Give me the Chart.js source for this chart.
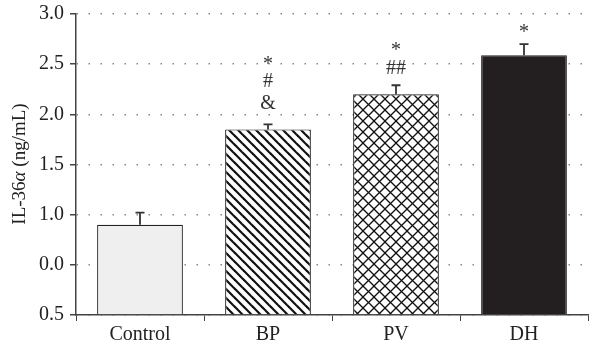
<!DOCTYPE html>
<html>
<head>
<meta charset="utf-8">
<script src="https://cdn.jsdelivr.net/npm/chart.js@4.4.1/dist/chart.umd.min.js"></script>
<style>
  html, body { margin: 0; padding: 0; background: #fff; }
  #wrap { width: 596px; height: 351px; }
</style>
</head>
<body>
<div id="wrap"><canvas id="il36chart" width="596" height="351"></canvas></div>
<script>
// values (axis positions, not the printed labels)
var groups = ['Control', 'BP', 'PV', 'DH'];
var means = [0.9, 1.85, 2.2, 2.59];
var errUp = [0.12, 0.05, 0.09, 0.11];
var marks = [[], ['*', '#', '&'], ['*', '##'], ['*']];
// the printed y labels, bottom to top (as they appear in the figure)
var yLabels = ['0.5', '0.0', '1.0', '1.5', '2.0', '2.5', '3.0'];

var canvas = document.getElementById('il36chart');
var ctx = canvas.getContext('2d');
var serif = '"Liberation Serif", serif';

function makeStripes() {
    var c = document.createElement('canvas');
    c.width = 9; c.height = 9;
    var g = c.getContext('2d');
    g.fillStyle = '#fff';
    g.fillRect(0, 0, 9, 9);
    g.strokeStyle = '#111';
    g.lineWidth = 2.2;
    for (var k = -1; k <= 1; k++) {
        g.beginPath();
        g.moveTo(k * 9 - 1, -1);
        g.lineTo(k * 9 + 10, 10);
        g.stroke();
    }
    return ctx.createPattern(c, 'repeat');
}

function makeCross() {
    var c = document.createElement('canvas');
    c.width = 11; c.height = 11;
    var g = c.getContext('2d');
    g.fillStyle = '#fff';
    g.fillRect(0, 0, 11, 11);
    g.strokeStyle = '#111';
    g.lineWidth = 1.3;
    for (var k = -1; k <= 1; k++) {
        g.beginPath();
        g.moveTo(k * 11 - 1, -1);
        g.lineTo(k * 11 + 12, 12);
        g.stroke();
        g.beginPath();
        g.moveTo(k * 11 - 1, 12);
        g.lineTo(k * 11 + 12, -1);
        g.stroke();
    }
    return ctx.createPattern(c, 'repeat');
}

var fills = ['#efefef', makeStripes(), makeCross(), '#231f20'];

var extras = {
    id: 'extras',
    afterDatasetsDraw: function(chart) {
        var c = chart.ctx;
        var meta = chart.getDatasetMeta(0);
        var ys = chart.scales.y;
        c.save();
        // error bars, upper side only
        c.strokeStyle = '#333';
        c.lineWidth = 1.8;
        for (var i = 0; i < means.length; i++) {
            var bar = meta.data[i];
            var top = ys.getPixelForValue(means[i] + errUp[i]);
            c.beginPath();
            c.moveTo(bar.x, bar.y);
            c.lineTo(bar.x, top);
            c.moveTo(bar.x - 4.5, top);
            c.lineTo(bar.x + 4.5, top);
            c.stroke();
        }
        // significance marks, stacked upward from the bar top
        c.fillStyle = '#333';
        c.font = '20px ' + serif;
        c.textAlign = 'center';
        c.textBaseline = 'middle';
        for (var i = 0; i < marks.length; i++) {
            var bar = meta.data[i];
            var y = bar.y - 26;
            for (var j = marks[i].length - 1; j >= 0; j--) {
                var s = marks[i][j];
                c.fillText(s, bar.x, s == '*' ? y + 4 : y);
                y -= 21.5;
            }
        }
        // y axis title with italic alpha
        c.translate(20, 164);
        c.rotate(-Math.PI / 2);
        c.fillStyle = '#222';
        c.textBaseline = 'middle';
        c.textAlign = 'left';
        var parts = [['IL-36', ''], ['\u03b1', 'italic '], [' (ng/mL)', '']];
        var w = 0;
        parts.forEach(function(p) {
            c.font = p[1] + '19px ' + serif;
            w += c.measureText(p[0]).width;
        });
        var x = -w / 2;
        parts.forEach(function(p) {
            c.font = p[1] + '19px ' + serif;
            c.fillText(p[0], x, 0);
            x += c.measureText(p[0]).width;
        });
        c.restore();
    }
};

new Chart(canvas, {
    type: 'bar',
    data: {
        labels: groups,
        datasets: [{
            data: means,
            backgroundColor: fills,
            borderColor: '#222',
            borderWidth: 1.2,
            borderSkipped: 'bottom',
            categoryPercentage: 1,
            barPercentage: 0.67
        }]
    },
    options: {
        responsive: false,
        animation: false,
        devicePixelRatio: 1,
        layout: { padding: { top: 14, right: 8, left: 0, bottom: 0 } },
        plugins: { legend: { display: false }, tooltip: { enabled: false } },
        scales: {
            x: {
                afterFit: function(s) { s.height = 36; },
                grid: { offset: true, drawOnChartArea: false, color: '#444', tickLength: 6 },
                border: { color: '#444', width: 1.5 },
                ticks: { color: '#222', padding: 2, font: { family: serif, size: 20 } }
            },
            y: {
                min: 0,
                max: 3,
                afterFit: function(s) {
                    s.width = 76;
                    s.paddingTop = 0;
                    s.paddingBottom = 0;
                },
                afterBuildTicks: function(s) {
                    s.ticks = yLabels.map(function(l, i) { return { value: i * 0.5 }; });
                },
                grid: {
                    color: '#888',
                    lineWidth: 1.5,
                    tickColor: '#444',
                    tickLength: 6,
                    tickWidth: 1.5
                },
                border: { color: '#444', width: 1.5, dash: [1.5, 10.5] },
                ticks: {
                    color: '#222',
                    padding: 6,
                    font: { family: serif, size: 20 },
                    callback: function(v, i) { return yLabels[i]; }
                }
            }
        }
    },
    plugins: [extras]
});
</script>
</body>
</html>
